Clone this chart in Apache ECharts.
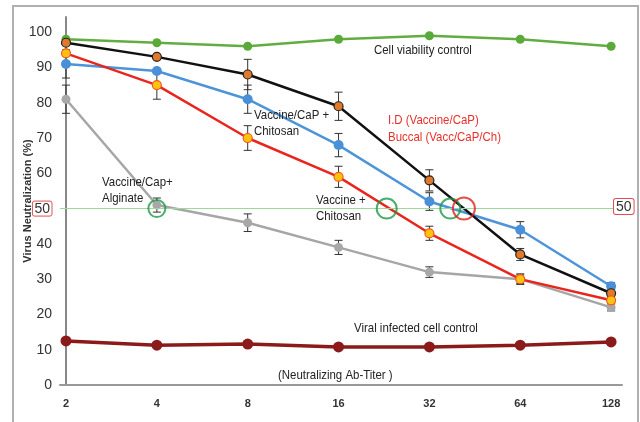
<!DOCTYPE html>
<html>
<head>
<meta charset="utf-8">
<script src="https://cdn.jsdelivr.net/npm/echarts@6/dist/echarts.min.js"></script>
<style>
  html, body { margin: 0; padding: 0; background: #fff; }
  #main { width: 640px; height: 422px; }
</style>
</head>
<body>
<div id="main"></div>
<script>
// titers on the x axis
var titers = ['2', '4', '8', '16', '32', '64', '128'];
var yTicks = [0, 10, 20, 30, 40, 50, 60, 70, 80, 90, 100];

// neutralization (%)
var cellViability = [98, 97, 96, 98, 99, 98, 96];
var alginate      = [81, 51, 46, 39, 32, 30, 22];
var capChitosan   = [91, 89, 81, 68, 52, 44, 28];
var idVaccine     = [97, 93, 88, 79, 58, 37, 26];
var buccal        = [94, 85, 70, 59, 43, 30, 24];
var viralControl  = [12.5, 11.3, 11.6, 10.8, 10.8, 11.3, 12.2];

// error bar half-heights
var errAlginate   = [4, 2, 2.5, 2, 1.5, 1.2, 1];
var errChitosan   = [4, 0, 4, 3.3, 2.5, 2.3, 1];
var errIdVaccine  = [0, 0, 4.3, 4, 3, 1.7, 1];
var errBuccal     = [0, 4, 3.5, 3, 2, 1.5, 1];

// 50% crossing circles (x in titer index units)
var crossGreen = [1, 3.53, 4.23];
var crossRed = [4.38];

function pts(arr) {
  return arr.map(function (v, i) { return [i, v]; });
}
function errPts(vals, errs) {
  return vals.map(function (v, i) { return [i, v, errs[i]]; });
}

var font = "'Liberation Sans', Arial, sans-serif";

function errSeries(vals, errs) {
  return {
    type: 'custom',
    z: 1,
    silent: true,
    data: errPts(vals, errs),
    renderItem: function (params, api) {
      var x = api.value(0), y = api.value(1), e = api.value(2);
      if (!e) return null;
      var top = api.coord([x, y + e]);
      var bot = api.coord([x, y - e]);
      var st = { stroke: '#333', lineWidth: 1 };
      return {
        type: 'group',
        children: [
          { type: 'line', shape: { x1: top[0], y1: top[1], x2: bot[0], y2: bot[1] }, style: st },
          { type: 'line', shape: { x1: top[0] - 4, y1: top[1], x2: top[0] + 4, y2: top[1] }, style: st },
          { type: 'line', shape: { x1: bot[0] - 4, y1: bot[1], x2: bot[0] + 4, y2: bot[1] }, style: st }
        ]
      };
    }
  };
}

function lineSeries(name, vals, color, mk, border, size, width) {
  return {
    name: name,
    type: 'line',
    z: 3,
    data: pts(vals),
    symbol: 'circle',
    symbolSize: size || 9,
    lineStyle: { color: color, width: width || 2.5 },
    itemStyle: { color: mk, borderColor: border || mk, borderWidth: border ? 1.2 : 0 },
    animation: false
  };
}

function circles(xs, color, size) {
  return {
    type: 'scatter',
    z: 5,
    data: xs.map(function (x) { return [x, 50]; }),
    symbol: 'circle',
    symbolSize: size,
    itemStyle: { color: 'rgba(0,0,0,0)', borderColor: color, borderWidth: 2 }
  };
}

// annotation text, squeezed a bit like the narrow font in the original
function txt(s, x, y, color) {
  return {
    type: 'text', x: x, y: y - 8, z: 10, scaleX: 0.88,
    style: { text: s, fill: color || '#222', font: '13px ' + font }
  };
}

var myChart = echarts.init(document.getElementById('main'));
var option = {
  animation: false,
  grid: { left: 60, right: 18, top: 17, bottom: 37 },
  xAxis: {
    type: 'value',
    min: -0.066,
    max: 6.12,
    axisLine: { lineStyle: { color: '#999', width: 2 } },
    axisTick: { show: false },
    splitLine: { show: false },
    axisLabel: {
      customValues: [0, 1, 2, 3, 4, 5, 6],
      formatter: function (v) { return titers[Math.round(v)]; },
      margin: 13,
      fontFamily: font,
      fontSize: 11,
      fontWeight: 'bold',
      color: '#333'
    }
  },
  yAxis: {
    type: 'value',
    min: 0,
    max: 104.3,
    name: 'Virus Neutralization (%)',
    nameLocation: 'middle',
    nameGap: 27,
    nameMoveOverlap: false,
    nameTextStyle: { fontFamily: font, fontSize: 11, color: '#333', fontWeight: 'bold' },
    axisLine: { show: true, lineStyle: { color: '#888', width: 2 } },
    axisTick: { show: false },
    splitLine: { show: false },
    axisLabel: {
      customValues: yTicks,
      margin: 8,
      fontFamily: font,
      fontSize: 14,
      color: '#333',
      formatter: function (v) { return v === 50 ? '{b|50}' : String(v); },
      rich: {
        b: {
          fontFamily: font, fontSize: 14, color: '#333',
          borderColor: '#e05050', borderWidth: 1, borderRadius: 2, padding: [1, 2, 0, 2]
        }
      }
    }
  },
  series: [
    errSeries(alginate, errAlginate),
    errSeries(capChitosan, errChitosan),
    errSeries(idVaccine, errIdVaccine),
    errSeries(buccal, errBuccal),
    Object.assign(lineSeries('Cell viability control', cellViability, '#62ad43', '#5aaa3a'), {
      markLine: {
        silent: true, symbol: 'none', label: { show: false },
        lineStyle: { color: '#9ed89e', width: 1, type: 'solid' },
        data: [{ yAxis: 50 }]
      }
    }),
    lineSeries('Vaccine/Cap+ Alginate', alginate, '#a6a6a6', '#a8a8a8'),
    lineSeries('Vaccine/CaP + Chitosan', capChitosan, '#4d94d8', '#4a90d9', null, 10),
    lineSeries('I.D (Vaccine/CaP)', idVaccine, '#111', '#e07a2a', '#222'),
    lineSeries('Buccal (Vacc/CaP/Ch)', buccal, '#e8261e', '#ffc20e', '#f05a1e'),
    lineSeries('Viral infected cell control', viralControl, '#8b1a1a', '#8b1a1a', null, 11, 3.5),
    circles([crossGreen[0]], '#1e9a45', 17),
    circles(crossGreen.slice(1), '#1e9a45', 20),
    circles(crossRed, '#e02020', 22)
  ],
  graphic: [
    { type: 'rect', z: 0, shape: { x: 13, y: 6, width: 625, height: 430 },
      style: { fill: 'none', stroke: '#b0b0b0', lineWidth: 2 } },
    txt('Cell viability control', 374, 52),
    txt('Vaccine/CaP +', 254, 117),
    txt('Chitosan', 254, 133),
    txt('I.D (Vaccine/CaP)', 388, 122, '#e8302b'),
    txt('Buccal (Vacc/CaP/Ch)', 388, 139, '#e8302b'),
    txt('Vaccine/Cap+', 102, 184),
    txt('Alginate', 102, 200),
    txt('Vaccine +', 316, 202),
    txt('Chitosan', 316, 218),
    txt('Viral infected cell control', 354, 330),
    txt('(Neutralizing Ab-Titer )', 278, 377),
    {
      type: 'text', x: 614, y: 199, z: 10,
      style: {
        text: '50', font: '14px ' + font, fill: '#333', backgroundColor: '#fff',
        borderColor: '#e05050', borderWidth: 1, borderRadius: 2, padding: [1, 2, 0, 2]
      }
    }
  ]
};

myChart.setOption(option);
</script>
</body>
</html>
